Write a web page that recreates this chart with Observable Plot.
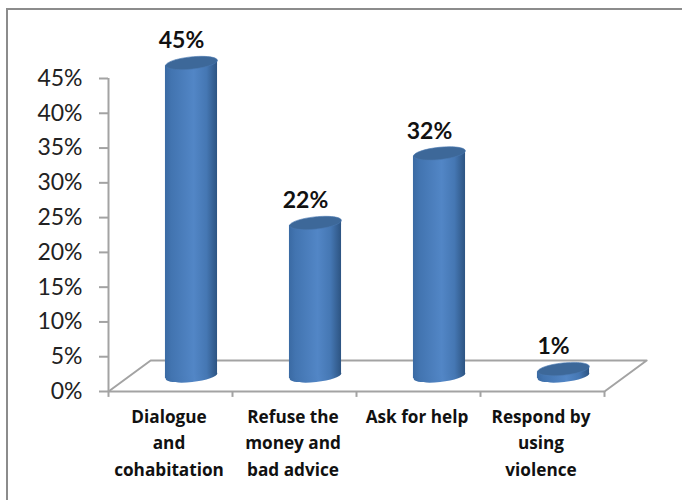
<!DOCTYPE html>
<html>
<head>
<meta charset="utf-8">
<script src="https://cdn.jsdelivr.net/npm/d3@7"></script>
<script src="https://cdn.jsdelivr.net/npm/@observablehq/plot@0.6"></script>
<style>
  html, body { margin: 0; padding: 0; background: #fff; overflow: hidden; }
  #frame { position: absolute; left: 6px; top: 8px; width: 700px; height: 520px; border: 2px solid #8c8c8c; border-right: none; border-bottom: none; box-sizing: border-box; }
  #chart { position: absolute; left: 0; top: 0; }
</style>
</head>
<body>
<div id="frame"></div>
<div id="chart"></div>
<script>
const categories = ["Dialogue\nand\ncohabitation", "Refuse the\nmoney and\nbad advice", "Ask for help", "Respond by\nusing\nviolence"];
const values = [45, 22, 32, 1];
const valueLabels = ["45%", "22%", "32%", "1%"];
const yTicks = [0, 5, 10, 15, 20, 25, 30, 35, 40, 45];

const fontFamily = "Lato, Carlito, sans-serif";
const labelFamily = "'Open Sans', Lato, sans-serif";
const axisGray = "#a3a3a3";
const barHalfWidth = 0.21;   // half a cylinder, in category widths
const tilt = 0.38;           // the slant of the cut, in percent
const depthX = 21, depthY = -15.5; // floor depth, in pixels
const floorBackX = 0.34, floorBackY = 4.45;

const rows = categories.map((c, i) => ({c, i, mid: i + 0.5, v: values[i], label: valueLabels[i]}));
const edges = rows.flatMap(d => [
  {i: d.i, x: d.mid - barHalfWidth, y1: -tilt, y2: d.v - tilt},
  {i: d.i, x: d.mid + barHalfWidth, y1: tilt, y2: d.v + tilt}
]);

const ellipse = {
  draw(ctx, size) {
    const rx = Math.sqrt(size / Math.PI), ry = rx * 0.235, k = 0.5523;
    ctx.moveTo(-rx, 0);
    ctx.bezierCurveTo(-rx, -k * ry, -k * rx, -ry, 0, -ry);
    ctx.bezierCurveTo(k * rx, -ry, rx, -k * ry, rx, 0);
    ctx.bezierCurveTo(rx, k * ry, k * rx, ry, 0, ry);
    ctx.bezierCurveTo(-k * rx, ry, -rx, k * ry, -rx, 0);
    ctx.closePath();
  }
};

function gradientDefs() {
  const ns = "http://www.w3.org/2000/svg";
  const defs = document.createElementNS(ns, "defs");
  const g = document.createElementNS(ns, "linearGradient");
  g.setAttribute("id", "cyl");
  [[0, "#3a6aa3"], [0.12, "#4274b0"], [0.55, "#5286c6"], [0.8, "#4577b3"], [1, "#2d5482"]].forEach(([o, c]) => {
    const s = document.createElementNS(ns, "stop");
    s.setAttribute("offset", o);
    s.setAttribute("stop-color", c);
    g.appendChild(s);
  });
  defs.appendChild(g);
  return defs;
}

const plot = Plot.plot({
  width: 682,
  height: 500,
  marginLeft: 108,
  marginRight: 78,
  marginTop: 78,
  marginBottom: 109,
  style: {background: "transparent", fontFamily},
  x: {type: "linear", domain: [0, 4], axis: null},
  y: {type: "linear", domain: [0, 45], axis: null},
  marks: [
    gradientDefs,
    // floor
    Plot.ruleY([0], {x1: 0, x2: 4, stroke: axisGray, strokeWidth: 2}),
    Plot.line([{x: 0, y: 0}, {x: floorBackX, y: floorBackY}, {x: 4 + floorBackX, y: floorBackY}, {x: 4, y: 0}],
      {x: "x", y: "y", stroke: axisGray, strokeWidth: 2, clip: false}),
    // axes
    Plot.ruleX([0], {y1: 0, y2: 45, stroke: axisGray, strokeWidth: 2}),
    Plot.axisY({
      ticks: yTicks, tickFormat: d => d + "%", tickSize: 9, tickPadding: 17,
      stroke: axisGray, strokeWidth: 2, color: "#222", fontSize: 23, fontFamily, label: null, anchor: "left"
    }),
    Plot.ruleX([0, 1, 2, 3, 4], {y1: 0, y2: -0.85, stroke: axisGray, strokeWidth: 2}),
    // cylinders: base, body, cut
    Plot.dot(rows, {x: "mid", y: 0, r: 26, symbol: ellipse, rotate: -6, fill: "url(#cyl)", dx: depthX, dy: depthY}),
    Plot.areaY(edges, {x: "x", y1: "y1", y2: "y2", z: "i", fill: "url(#cyl)", curve: "linear", dx: depthX, dy: depthY}),
    Plot.dot(rows, {x: "mid", y: "v", r: 26, symbol: ellipse, rotate: -6, fill: "#3d6899", stroke: "#4a78b0", strokeWidth: 0.6, dx: depthX, dy: depthY}),
    // value labels
    Plot.text(rows, {x: "mid", y: "v", text: "label", dx: depthX - 10, dy: depthY - 22, fontSize: 23, fontWeight: 700, fill: "#111", fontFamily}),
    // category labels
    Plot.text(rows, {x: "mid", y: 0, text: "c", dx: -1.5, dy: 12, lineAnchor: "top", lineHeight: 1.56, fontSize: 17.2, fontWeight: 700, fill: "#111", fontFamily: labelFamily})
  ]
});
document.getElementById("chart").appendChild(plot);
</script>
</body>
</html>
